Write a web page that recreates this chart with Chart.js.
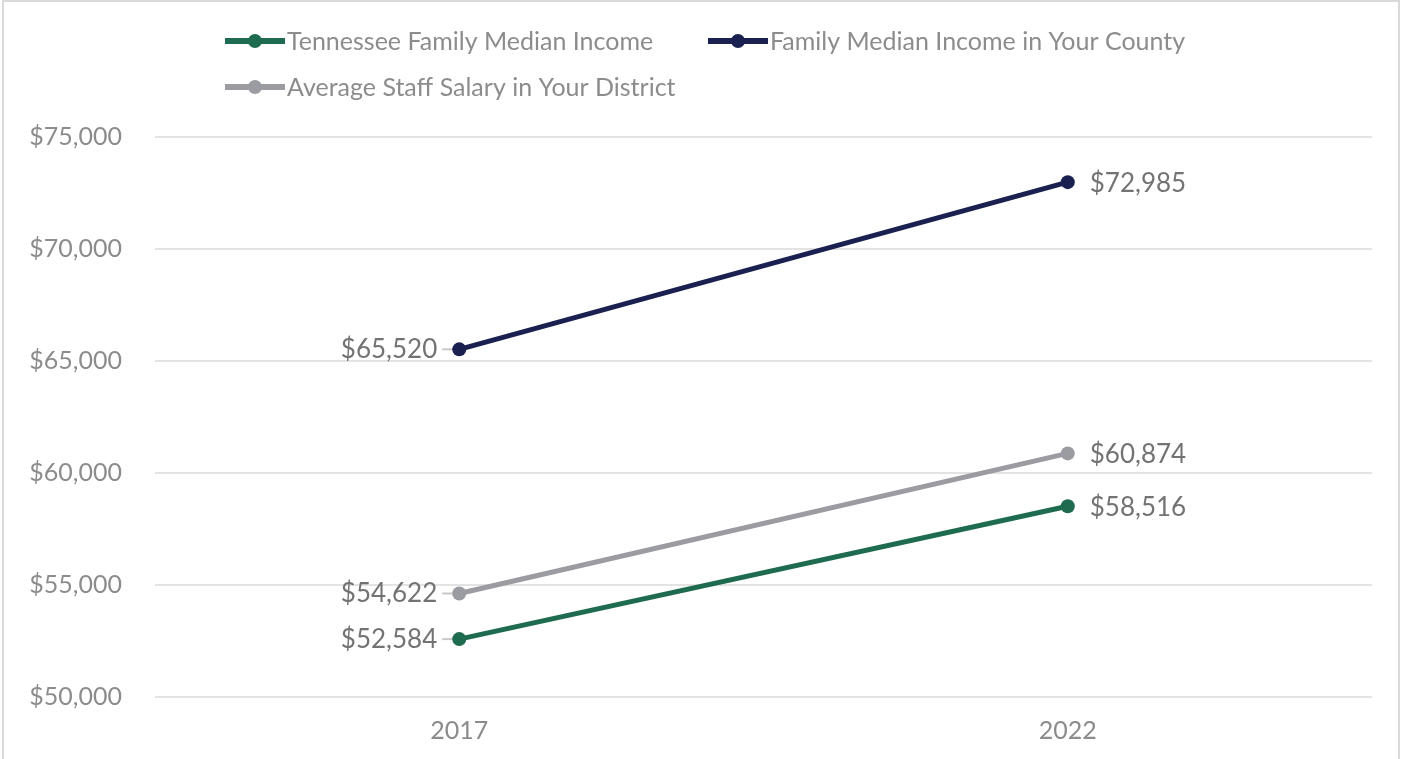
<!DOCTYPE html>
<html lang="en">
<head>
<meta charset="UTF-8">
<title>Family Median Income vs Average Staff Salary</title>
<script src="https://cdn.jsdelivr.net/npm/chart.js"></script>
<style>
    html, body {
        margin: 0;
        padding: 0;
        background: #fff;
        overflow: hidden;
    }
    .chart-container {
        position: absolute;
        left: 0;
        top: 0;
        width: 1401px;
        height: 759px;
    }
    .frame {
        position: absolute;
        left: 2px;
        top: 0;
        width: 1398px;
        height: 800px;
        border: 2px solid #d9d9d9;
        box-sizing: border-box;
        pointer-events: none;
    }
</style>
</head>
<body>

<div class="chart-container">
    <canvas id="lineChart" width="1401" height="759"></canvas>
</div>
<div class="frame"></div>

<script>
    // Chart data
    const years = ['2017', '2022'];
    const tnIncome = [52584, 58516];
    const countyIncome = [65520, 72985];
    const staffSalary = [54622, 60874];
    const seriesNames = [
        'Tennessee Family Median Income',
        'Family Median Income in Your County',
        'Average Staff Salary in Your District'
    ];

    const FONT = "'Lato', 'Open Sans', sans-serif";
    const money = v => '$' + Number(v).toLocaleString('en-US');

    // legend drawn by hand so the second row lines up on the left like the original
    const legendSpots = [
        { x: 225, y: 41 },
        { x: 708, y: 41 },
        { x: 225, y: 87 }
    ];

    const customLegend = {
        id: 'customLegend',
        afterDraw(chart) {
            const ctx = chart.ctx;
            ctx.save();
            chart.data.datasets.forEach((ds, i) => {
                const p = legendSpots[i];
                ctx.strokeStyle = ds.borderColor;
                ctx.lineWidth = 6;
                ctx.beginPath();
                ctx.moveTo(p.x, p.y);
                ctx.lineTo(p.x + 60, p.y);
                ctx.stroke();
                ctx.fillStyle = ds.borderColor;
                ctx.beginPath();
                ctx.arc(p.x + 30, p.y, 7, 0, Math.PI * 2);
                ctx.fill();
                ctx.fillStyle = '#8c8c8c';
                ctx.font = '25px ' + FONT;
                ctx.textBaseline = 'middle';
                ctx.textAlign = 'left';
                ctx.fillText(ds.label, p.x + 62, p.y + 1);
            });
            ctx.restore();
        }
    };

    // value labels: left of the first point (with a short leader), right of the last
    const valueLabels = {
        id: 'valueLabels',
        beforeDatasetsDraw(chart) {
            const ctx = chart.ctx;
            ctx.save();
            ctx.strokeStyle = '#c8c8c8';
            ctx.lineWidth = 2;
            chart.data.datasets.forEach((ds, i) => {
                const pt = chart.getDatasetMeta(i).data[0];
                ctx.beginPath();
                ctx.moveTo(pt.x - 17, pt.y);
                ctx.lineTo(pt.x, pt.y);
                ctx.stroke();
            });
            ctx.restore();
        },
        afterDatasetsDraw(chart) {
            const ctx = chart.ctx;
            ctx.save();
            ctx.font = '26px ' + FONT;
            ctx.fillStyle = '#737373';
            ctx.textBaseline = 'middle';
            chart.data.datasets.forEach((ds, i) => {
                chart.getDatasetMeta(i).data.forEach((pt, j) => {
                    const text = money(ds.data[j]);
                    if (j === 0) {
                        ctx.textAlign = 'right';
                        ctx.fillText(text, pt.x - 22, pt.y);
                    } else {
                        ctx.textAlign = 'left';
                        ctx.fillText(text, pt.x + 22, pt.y + 1);
                    }
                });
            });
            ctx.restore();
        }
    };

    const lineStyle = color => ({
        borderColor: color,
        backgroundColor: color,
        borderWidth: 5,
        pointRadius: 7,
        pointHoverRadius: 7,
        pointBorderWidth: 0,
        tension: 0
    });

    const ctx = document.getElementById('lineChart').getContext('2d');
    const lineChart = new Chart(ctx, {
        type: 'line',
        data: {
            labels: years,
            datasets: [
                { label: seriesNames[0], data: tnIncome, ...lineStyle('#1e6b4f') },
                { label: seriesNames[1], data: countyIncome, ...lineStyle('#1a2150') },
                { label: seriesNames[2], data: staffSalary, ...lineStyle('#9b9ba2') }
            ]
        },
        options: {
            responsive: false,
            animation: false,
            layout: {
                padding: { left: 0, right: 29, top: 137, bottom: 0 }
            },
            plugins: {
                legend: { display: false },
                tooltip: { enabled: false }
            },
            scales: {
                x: {
                    offset: true,
                    grid: { display: false, drawTicks: false },
                    border: { display: false },
                    ticks: {
                        color: '#8c8c8c',
                        font: { family: FONT, size: 25 },
                        padding: 19
                    },
                    afterFit: scale => { scale.height = 62; }
                },
                y: {
                    min: 50000,
                    max: 75000,
                    grid: { color: '#e3e3e3', lineWidth: 2, drawTicks: false },
                    border: { display: false },
                    ticks: {
                        stepSize: 5000,
                        color: '#8c8c8c',
                        font: { family: FONT, size: 25 },
                        padding: 33,
                        callback: value => money(value)
                    },
                    afterFit: scale => { scale.width = 155; }
                }
            }
        },
        plugins: [valueLabels, customLegend]
    });
</script>

</body>
</html>
